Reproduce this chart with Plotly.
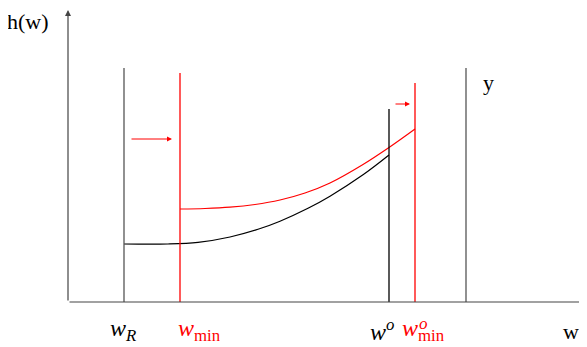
import plotly.graph_objects as go

# ---- data (abstract units: origin at the axes corner) ----
black_w = [56, 100, 130, 162, 190, 212, 240, 262, 295, 321]
black_h = [58, 58, 59.6, 65.0, 72.7, 80.8, 93.7, 105.8, 127.2, 147]
red_w = [112, 137, 162, 187, 212, 237, 262, 295, 321, 347]
red_h = [93, 93.5, 94.8, 97.5, 102, 109, 119, 137.5, 154.5, 173]

# vertical markers: position, top, colour
v_names = ["wR", "wmin", "wo", "wo_min", "y"]
v_pos = [56, 112, 321, 347, 398]
v_top = [234, 229, 193, 219, 234]
v_col = ["#555555", "#ff0000", "#000000", "#ff0000", "#555555"]

# shift arrows: tail x, head x, height
arr_tail = [62, 326]
arr_head = [104, 342]
arr_y = [163, 198]

x_axis_end = 517
y_axis_end = 292

FONT = "Liberation Serif, Times New Roman, serif"

fig = go.Figure()

fig.add_trace(go.Scatter(x=black_w, y=black_h, mode="lines",
                         line=dict(color="black", width=1.2, shape="spline"),
                         hoverinfo="skip"))
fig.add_trace(go.Scatter(x=red_w, y=red_h, mode="lines",
                         line=dict(color="#ff0000", width=1.2, shape="spline"),
                         hoverinfo="skip"))

for p, t, c in zip(v_pos, v_top, v_col):
    fig.add_trace(go.Scatter(x=[p, p], y=[0, t], mode="lines",
                             line=dict(color=c, width=1.3), hoverinfo="skip"))

annotations = []
# axes with arrowheads
annotations.append(dict(x=0, y=y_axis_end, ax=0, ay=0, xref="x", yref="y",
                        axref="x", ayref="y", text="", showarrow=True,
                        arrowhead=2, arrowsize=1, arrowwidth=1.2,
                        arrowcolor="#444444", standoff=0))
annotations.append(dict(x=x_axis_end, y=0, ax=0, ay=0, xref="x", yref="y",
                        axref="x", ayref="y", text="", showarrow=True,
                        arrowhead=2, arrowsize=1, arrowwidth=1.2,
                        arrowcolor="#444444", standoff=0))
for t, h, yy in zip(arr_tail, arr_head, arr_y):
    annotations.append(dict(x=h, y=yy, ax=t, ay=yy, xref="x", yref="y",
                            axref="x", ayref="y", text="", showarrow=True,
                            arrowhead=2, arrowsize=1, arrowwidth=1,
                            arrowcolor="#ff0000", standoff=0))

# labels
def lab(text, x, y, color="black", size=22, xanchor="center"):
    annotations.append(dict(x=x, y=y, xref="x", yref="y", text=text,
                            showarrow=False, xanchor=xanchor, yanchor="middle",
                            font=dict(family=FONT, size=size, color=color)))

lab("h(w)", -40, 281)
lab("y", 420, 220)
lab("w", 503, -29)
lab("<i>w</i><sub><i>R</i></sub>", 40, -28, xanchor="left", size=24)
lab("<i>w</i><sub>min</sub>", 108, -28, color="#ff0000", xanchor="left", size=24)
lab("<i>w</i><sup><i>o</i></sup>", 300, -28, xanchor="left", size=24)
lab("<i>w</i><sub>min</sub>", 332, -28, color="#ff0000", xanchor="left", size=24)
lab("<i>o</i>", 349, -21, color="#ff0000", xanchor="left", size=17)

# the page body has an 8px default margin, so the figure is 8px smaller
fig.update_layout(
    width=579, height=339,
    margin=dict(l=0, r=0, t=0, b=0),
    paper_bgcolor="white", plot_bgcolor="white",
    showlegend=False,
    xaxis=dict(range=[-60, 519], visible=False, fixedrange=True),
    yaxis=dict(range=[-45, 294], visible=False, fixedrange=True),
    annotations=annotations,
)

fig.write_html("out.html")
